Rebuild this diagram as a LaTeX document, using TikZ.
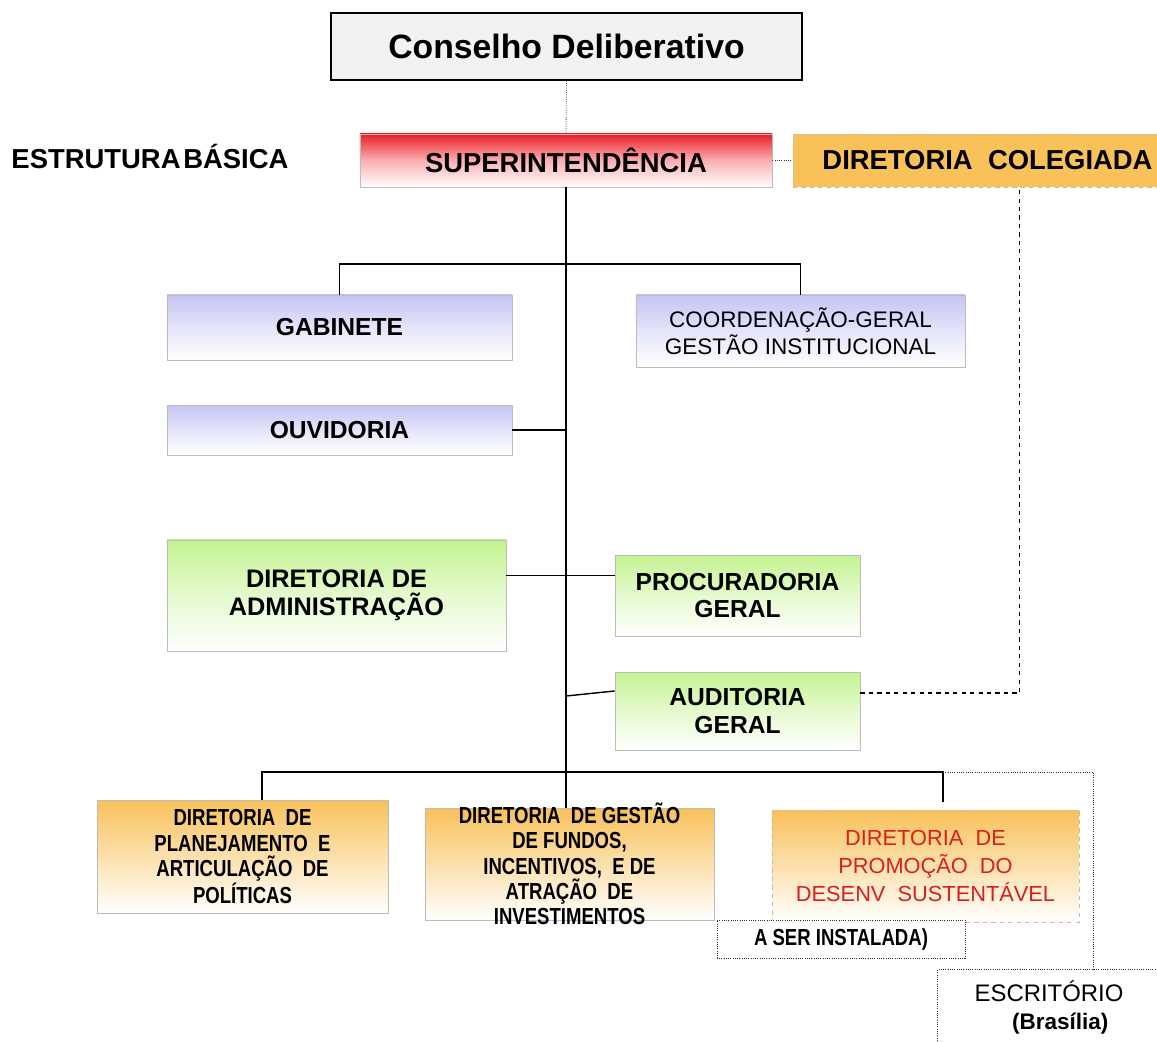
\documentclass[tikz,border=0pt]{standalone}
\usepackage{fontspec}
\setmainfont{Liberation Sans}
\newfontfamily\narrowfont[FakeStretch=0.8]{Liberation Sans}
\usetikzlibrary{calc}

\definecolor{cgray}{HTML}{F2F2F2}
\definecolor{supred}{HTML}{EE1D25}
\definecolor{lav}{HTML}{C4C4F4}
\definecolor{grn}{HTML}{C4F392}
\definecolor{org}{HTML}{F8C15A}
\definecolor{redtxt}{HTML}{D8201E}
\definecolor{edge}{HTML}{BDBDBD}

\tikzset{
	unit box/.style={shape=rectangle, draw=edge, line width=0.6pt, inner sep=2pt, align=center},
	lav box/.style={unit box, top color=lav, bottom color=white, middle color=lav!45},
	grn box/.style={unit box, top color=grn, bottom color=white, middle color=grn!45},
	org box/.style={unit box, top color=org, bottom color=white, middle color=org!50},
	bold text/.style={font=\fontsize{17.5}{19.5}\selectfont\bfseries},
	narrow text/.style={font=\fontsize{16.5}{18}\selectfont\narrowfont\bfseries},
	link/.style={draw=black, line width=1pt},
	dots/.style={draw=black!80, line width=0.6pt, densely dotted}
}

\begin{document}
\begin{tikzpicture}[x=0.025cm, y=-0.025cm]
	\useasboundingbox (0,0) rectangle (1157,1041);
	\fill[white] (0,0) rectangle (1157,1041);

	% Top of the structure
	\node[shape=rectangle, draw, line width=1.2pt, fill=cgray,
	minimum width=11.775cm, minimum height=1.675cm,
	font=\fontsize{24}{28}\selectfont\bfseries] (cons) at (566.5, 46.5){Conselho Deliberativo};
	\node[font=\fontsize{19.5}{21}\selectfont\bfseries, anchor=center] (title) at (150, 156){ESTRUTURA\hspace{2pt}BÁSICA};
	\node[unit box, top color=supred, bottom color=white, middle color=supred!35,
	minimum width=10.3cm, minimum height=1.325cm,
	font=\fontsize{19.5}{21}\selectfont\bfseries] (sup) at (566, 160.5){SUPERINTENDÊNCIA};
	\node[shape=rectangle, draw=edge, dashed, fill=org, line width=0.6pt,
	minimum width=9.725cm, minimum height=1.325cm,
	font=\fontsize{19.5}{21}\selectfont\bfseries] (coleg) at (987.5, 160.5){DIRETORIA\ \ COLEGIADA};

	% Units directly under the superintendence
	\node[lav box, bold text, minimum width=8.625cm, minimum height=1.625cm] (gab) at (339.5, 327.5){GABINETE};
	\node[lav box, font=\fontsize{16}{19}\selectfont, minimum width=8.225cm,
	minimum height=1.8cm] (coord) at (800.5, 331){COORDENAÇÃO-GERAL\\GESTÃO INSTITUCIONAL};
	\node[lav box, bold text, minimum width=8.625cm, minimum height=1.25cm] (ouv) at (339.5, 430){OUVIDORIA};
	\node[grn box, font=\fontsize{18}{20}\selectfont\bfseries, minimum width=8.475cm,
	minimum height=2.775cm] (adm) at (336.5, 595.5){DIRETORIA DE\\ADMINISTRAÇÃO};
	\node[grn box, bold text, minimum width=6.125cm, minimum height=2.025cm] (proc) at (737.5, 595.5){PROCURADORIA\\GERAL};
	\node[grn box, bold text, minimum width=6.125cm, minimum height=1.95cm] (aud) at (737.5, 711){AUDITORIA\\GERAL};

	% Directorates
	\node[org box, narrow text, minimum width=7.275cm, minimum height=2.825cm] (plan) at (242.5, 856.5)
	{DIRETORIA\ \ DE\\PLANEJAMENTO\ \ E\\ARTICULAÇÃO\ \ DE\\POLÍTICAS};
	\node[org box, narrow text, inner ysep=-4pt, minimum width=7.225cm, minimum height=2.8cm] (gest) at (569.5, 864)
	{DIRETORIA\ \ DE GESTÃO\\DE FUNDOS,\\INCENTIVOS,\ \ E DE\\ATRAÇÃO\ \ DE\\INVESTIMENTOS};
	\node[org box, draw=edge, dashed, text=redtxt, font=\fontsize{15.5}{20}\selectfont,
	minimum width=7.675cm, minimum height=2.8cm] (prom) at (925.5, 866)
	{DIRETORIA\ \ DE\\PROMOÇÃO\ \ DO\\DESENV\ \ SUSTENTÁVEL};
	\node[shape=rectangle, dots, fill=white, minimum width=6.2cm, minimum height=0.95cm,
	font=\fontsize{16.5}{18}\selectfont\narrowfont\bfseries] (inst) at (841, 939){A SER INSTALADA)};
	\node[shape=rectangle, align=center, minimum width=5.55cm, minimum height=1.875cm,
	font=\fontsize{17}{20}\selectfont] (escr) at (1049, 1007.5){ESCRITÓRIO\\{\fontsize{16}{20}\selectfont\bfseries\hspace*{16pt}(Brasília)}};
	\draw[dots] (escr.south west) -- (escr.north west) -- (escr.north east);

	% Connectors
	\coordinate (ub) at (566, 264);
	\coordinate (lb) at (566, 772);
	\draw[dots] (cons.south) -- (sup.north);
	\draw[dots] (sup.east) -- (coleg.west);
	\draw[link] (sup.south) -- (sup.south |- gest.north);
	\draw[link] (gab.north) |- (ub) -| (coord.north);
	\draw[link] (ouv.east) -- (ouv.east -| sup.south);
	\draw[link] ([yshift=0.5cm]adm.east) -- ([yshift=0.5cm]proc.west);
	\draw[link] ([yshift=0.375cm]aud.west -| sup.south) -- ([yshift=0.5cm]aud.west);
	\draw[dashed, line width=0.8pt] ([yshift=0.45cm]aud.east) -| ([xshift=0.81cm]coleg.south);
	\draw[link] ([xshift=0.49cm]plan.north) |- (lb) -| ([xshift=0.44cm, yshift=0.2cm]prom.north);
	\draw[dots] ([xshift=0.44cm]prom.north |- lb) -| ([xshift=1.1cm]escr.north);
\end{tikzpicture}
\end{document}
